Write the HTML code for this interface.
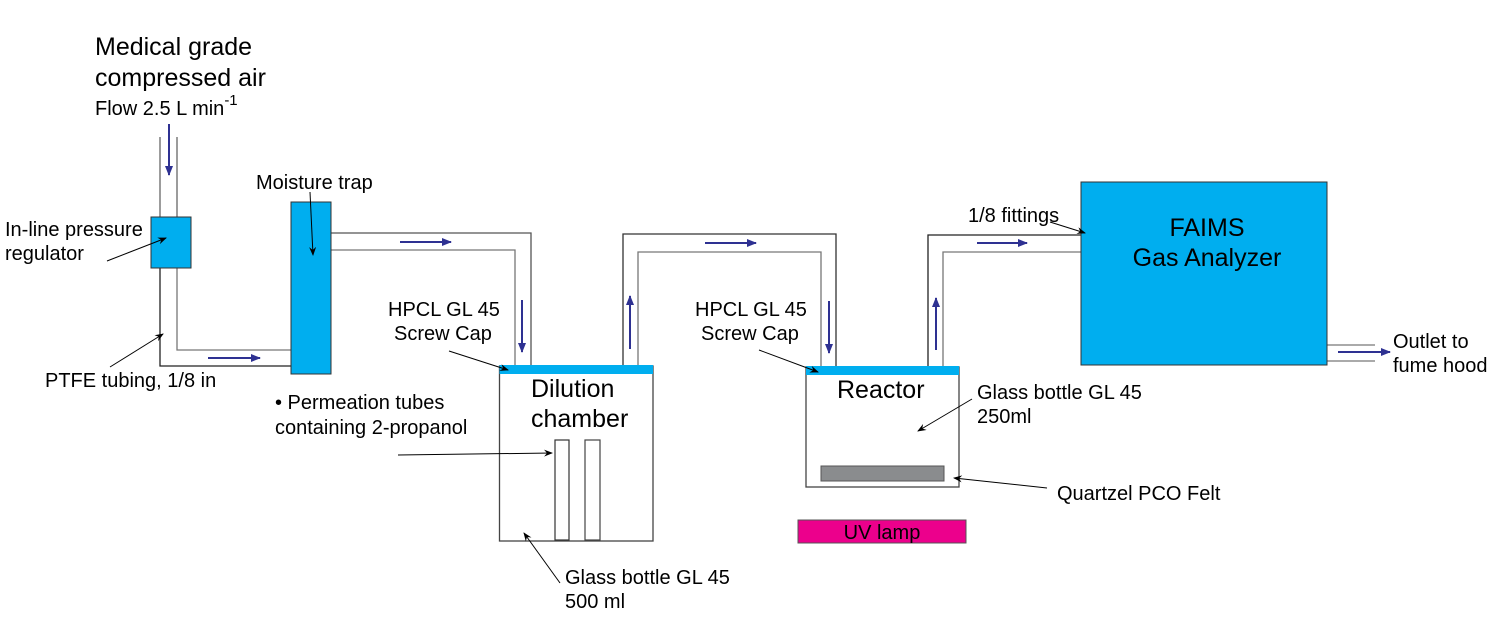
<!DOCTYPE html>
<html><head><meta charset="utf-8"><style>
html,body{margin:0;padding:0;background:#fff;}
svg{display:block;}
text{font-family:"Liberation Sans",Arial,sans-serif;fill:#000;}
</style></head><body>
<svg width="1500" height="627" viewBox="0 0 1500 627" xmlns="http://www.w3.org/2000/svg">
<defs>
<marker id="bh" markerWidth="10" markerHeight="8" refX="9" refY="4" orient="auto" markerUnits="userSpaceOnUse"><path d="M0,0 L10,4 L0,8 Z" fill="#2e3192"/></marker>
<marker id="kh" markerWidth="9" markerHeight="7" refX="8" refY="3.5" orient="auto" markerUnits="userSpaceOnUse"><path d="M0,0 L9,3.5 L0,7 L3,3.5 Z" fill="#000"/></marker>
</defs>
<g fill="none" stroke-width="1.3">
<line x1="160" y1="137" x2="160" y2="217" stroke="#666"/>
<line x1="177" y1="137" x2="177" y2="217" stroke="#666"/>
<polyline points="160,268 160,366 291,366" stroke="#222"/>
<polyline points="177,268 177,350 291,350" stroke="#777"/>
<polyline points="331,233 531,233 531,366" stroke="#555"/>
<polyline points="331,250 515,250 515,366" stroke="#777"/>
<polyline points="623,366 623,234 836,234 836,367" stroke="#333"/>
<polyline points="638,366 638,252 821,252 821,367" stroke="#777"/>
<polyline points="928,367 928,235 1081,235" stroke="#222"/>
<polyline points="943,367 943,252 1081,252" stroke="#777"/>
<line x1="1327" y1="345" x2="1375" y2="345" stroke="#777"/>
<line x1="1327" y1="361" x2="1375" y2="361" stroke="#777"/>
</g>
<rect x="151" y="217" width="40" height="51" fill="#00aeef" stroke="#333" stroke-width="1"/>
<rect x="291" y="202" width="40" height="172" fill="#00aeef" stroke="#333" stroke-width="1"/>
<rect x="499.5" y="366" width="153.5" height="175" fill="#fff" stroke="#444" stroke-width="1.3"/>
<rect x="499.5" y="365" width="153.5" height="9" fill="#00aeef"/>
<rect x="555" y="440" width="14" height="100" fill="#fff" stroke="#333" stroke-width="1.2"/>
<rect x="585" y="440" width="15" height="100" fill="#fff" stroke="#444" stroke-width="1.2"/>
<rect x="806" y="367" width="153" height="120" fill="#fff" stroke="#444" stroke-width="1.3"/>
<rect x="806" y="366" width="153" height="9" fill="#00aeef"/>
<rect x="821" y="466" width="123" height="15" fill="#8a8c8e" stroke="#555" stroke-width="1"/>
<rect x="798" y="520" width="168" height="23" fill="#ec008c" stroke="#555" stroke-width="1"/>
<rect x="1081" y="182" width="246" height="183" fill="#00aeef" stroke="#333" stroke-width="1"/>
<g stroke="#2e3192" stroke-width="2" fill="none">
<line x1="169" y1="124" x2="169" y2="175" marker-end="url(#bh)"/>
<line x1="208" y1="358" x2="260" y2="358" marker-end="url(#bh)"/>
<line x1="400" y1="242" x2="451" y2="242" marker-end="url(#bh)"/>
<line x1="522" y1="300" x2="522" y2="352" marker-end="url(#bh)"/>
<line x1="630" y1="349" x2="630" y2="296" marker-end="url(#bh)"/>
<line x1="705" y1="243" x2="756" y2="243" marker-end="url(#bh)"/>
<line x1="829" y1="301" x2="829" y2="353" marker-end="url(#bh)"/>
<line x1="936" y1="350" x2="936" y2="298" marker-end="url(#bh)"/>
<line x1="977" y1="243" x2="1027" y2="243" marker-end="url(#bh)"/>
<line x1="1338" y1="352" x2="1390" y2="352" marker-end="url(#bh)"/>
</g>
<g stroke="#000" stroke-width="1" fill="none">
<line x1="107" y1="261" x2="166" y2="238" marker-end="url(#kh)"/>
<line x1="310" y1="192" x2="313" y2="255" marker-end="url(#kh)"/>
<line x1="110" y1="367" x2="163" y2="334" marker-end="url(#kh)"/>
<line x1="449" y1="351" x2="508" y2="370" marker-end="url(#kh)"/>
<line x1="759" y1="350" x2="818" y2="372" marker-end="url(#kh)"/>
<line x1="398" y1="455" x2="552" y2="453" marker-end="url(#kh)"/>
<line x1="560" y1="583" x2="524" y2="533" marker-end="url(#kh)"/>
<line x1="972" y1="399" x2="918" y2="431" marker-end="url(#kh)"/>
<line x1="1047" y1="488" x2="954" y2="478" marker-end="url(#kh)"/>
<line x1="1050" y1="222" x2="1085" y2="233" marker-end="url(#kh)"/>
</g>
<text x="95" y="55" font-size="25">Medical grade</text>
<text x="95" y="86" font-size="25">compressed air</text>
<text x="95" y="115" font-size="20">Flow 2.5 L min<tspan font-size="15" dy="-10">-1</tspan></text>
<text x="5" y="236" font-size="20">In-line pressure</text>
<text x="5" y="260" font-size="20">regulator</text>
<text x="256" y="189" font-size="20">Moisture trap</text>
<text x="45" y="387" font-size="20">PTFE tubing, 1/8 in</text>
<text x="275" y="409" font-size="20">• Permeation tubes</text>
<text x="275" y="434" font-size="20">containing 2-propanol</text>
<text x="388" y="316" font-size="20">HPCL GL 45</text>
<text x="394" y="340" font-size="20">Screw Cap</text>
<text x="695" y="316" font-size="20">HPCL GL 45</text>
<text x="701" y="340" font-size="20">Screw Cap</text>
<text x="531" y="397" font-size="25">Dilution</text>
<text x="531" y="427" font-size="25">chamber</text>
<text x="837" y="398" font-size="25">Reactor</text>
<text x="977" y="399" font-size="20">Glass bottle GL 45</text>
<text x="977" y="423" font-size="20">250ml</text>
<text x="1057" y="500" font-size="20">Quartzel PCO Felt</text>
<text x="882" y="539" font-size="20" text-anchor="middle">UV lamp</text>
<text x="565" y="584" font-size="20">Glass bottle GL 45</text>
<text x="565" y="608" font-size="20">500 ml</text>
<text x="968" y="222" font-size="20">1/8 fittings</text>
<text x="1207" y="236" font-size="25" text-anchor="middle">FAIMS</text>
<text x="1207" y="266" font-size="25" text-anchor="middle">Gas Analyzer</text>
<text x="1393" y="348" font-size="20">Outlet to</text>
<text x="1393" y="372" font-size="20">fume hood</text>
</svg>
</body></html>
